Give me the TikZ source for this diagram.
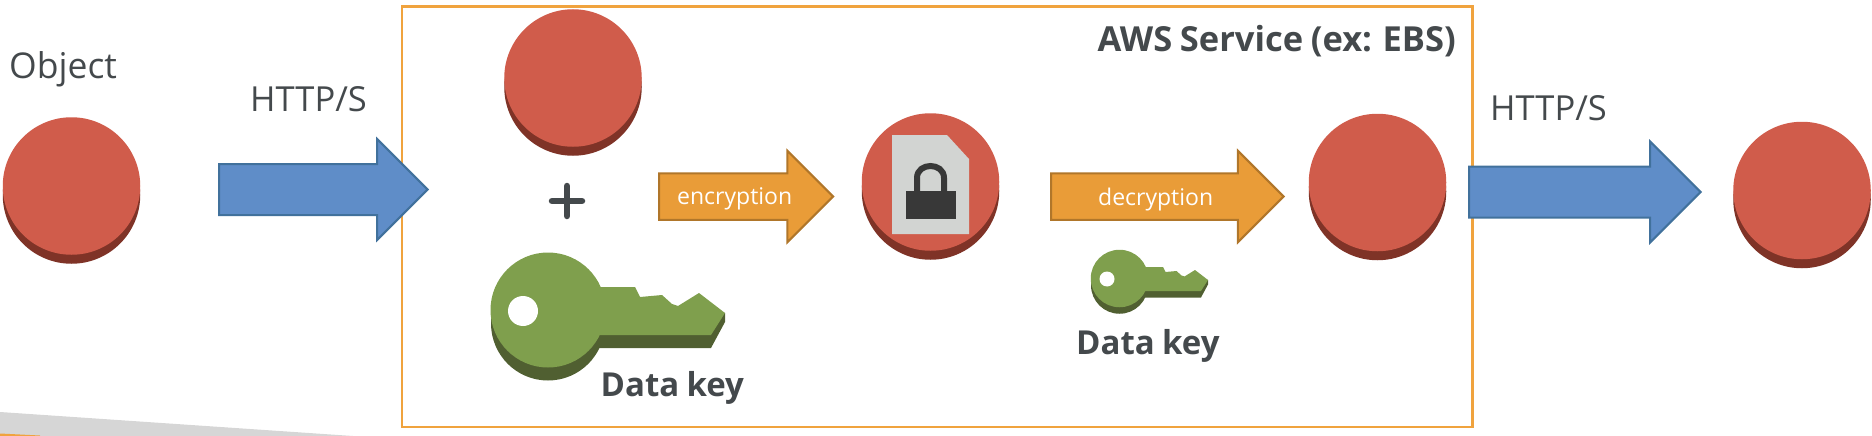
\documentclass[tikz,border=0pt]{standalone}
\usepackage{fontspec}
\setmainfont[WordSpace=0.85]{Open Sans}
\usetikzlibrary{shapes.arrows}
\definecolor{diskface}{HTML}{D05C4B}
\definecolor{diskedge}{HTML}{7F3327}
\definecolor{keyface}{HTML}{7F9F4D}
\definecolor{keyedge}{HTML}{505F31}
\definecolor{bluefill}{HTML}{5F8DC8}
\definecolor{blueline}{HTML}{41719C}
\definecolor{orangefill}{HTML}{E99C38}
\definecolor{orangeline}{HTML}{B0762A}
\definecolor{frameline}{HTML}{F0A33E}
\definecolor{inktext}{HTML}{44494C}
\definecolor{paper}{HTML}{D2D4D2}
\definecolor{lockdark}{HTML}{383838}
\definecolor{sliver}{HTML}{D6D6D6}
\tikzset{
  x=1pt, y=-1pt,
  diskbase/.style={circle, inner sep=0pt, outer sep=0pt, minimum size=137.5pt},
  blockarrow/.style={shape=single arrow, single arrow head extend=#1, inner xsep=0pt, inner ysep=0pt,
    outer sep=0pt, minimum width=0pt, anchor=tip, line width=2pt, text width=0pt, text depth=0pt},
  bluearrow/.style={blockarrow=25pt, fill=bluefill, draw=blueline, text height=49pt},
  orangearrow/.style={blockarrow=22.5pt, fill=orangefill, draw=orangeline, text height=44.5pt},
  plain/.style={inktext, inner sep=0pt, anchor=base west, font=\fontsize{34.5}{42}\selectfont},
  heavy/.style={inktext, inner sep=0pt, anchor=base west, font=\fontsize{33}{40}\selectfont\bfseries},
  onarrow/.style={white, inner sep=0pt, anchor=base west, font=\fontsize{23}{28}\selectfont},
}
% A raised disk: darker copy below, lighter face on top.
\newcommand{\raiseddisk}[3]{%
  \node[diskbase, fill=diskedge] (#1edge) at (#2,#3+9) {};
  \node[diskbase, fill=diskface] (#1) at (#2,#3) {};
}
% The key glyph, drawn in full-size coordinates with its edge layer first.
\newcommand{\keyglyph}[3]{%
  \begin{scope}[shift={(#1,#2)}, scale=#3, shift={(-491,-253)}]
    \fill[keyedge] (548,323.5) circle[radius=57];
    \fill[keyedge] (580,300) -- (725,313) -- (725,322) -- (711,348) -- (580,348) -- cycle;
    \fill[keyface] (548,310) circle[radius=57.5];
    \fill[keyface] (580,287) -- (635,287) -- (640,297) -- (662,295) -- (672,304) -- (678,306)
      -- (699,293) -- (725,313) -- (711,335) -- (580,335) -- cycle;
    \fill[white] (523,311) circle[radius=15];
  \end{scope}%
}
\begin{document}
\begin{tikzpicture}
\useasboundingbox (0,0) rectangle (1872,436);
\clip (0,0) rectangle (1872,436);

% Slide remnants along the lower edge
\fill[sliver] (0,412) -- (353,436) -- (0,436) -- cycle;
\fill[frameline] (0,433.5) -- (40,435.5) -- (40,436) -- (0,436) -- cycle;

% Service frame
\node[draw=frameline, line width=2.6pt, inner sep=0pt, outer sep=0pt, anchor=north west,
      minimum width=1070.5pt, minimum height=420.5pt] (service) at (402,6.5) {};
\node[heavy, font=\fontsize{34.5}{42}\selectfont\bfseries, anchor=base east] (servicetitle) at (1456,52) {AWS Service (ex: EBS)};

% Incoming object
\node[plain, font=\fontsize{35.5}{42}\selectfont] (objectlabel) at (9,78) {Object};
\raiseddisk{source}{71.5}{186}
\node[plain] (httpin) at (250,111) {HTTP/S};
\node[bluearrow, minimum height=208.6pt] (uploadarrow) at (427.6,189.5) {};

% Plain object and data key inside the service
\raiseddisk{plainobject}{573}{78}
\coordinate (plus) at (567,201);
\draw[inktext, line width=6.5pt, line cap=round] ([xshift=-15pt]plus) -- ([xshift=15pt]plus);
\draw[inktext, line width=6.5pt, line cap=round] ([yshift=-15pt]plus) -- ([yshift=15pt]plus);
\keyglyph{491}{253}{1}
\node[heavy] (keylabelone) at (600.5,396) {Data key};

% Encryption step
\node[orangearrow, minimum height=174.1pt] (encryptarrow) at (833.1,196.5) {};
\node[onarrow] (encryptlabel) at (677,204) {encryption};

% Encrypted object: paper sheet with padlock
\raiseddisk{cipher}{930.5}{182}
\fill[paper] (892,135) -- (947,135) -- (969,159) -- (969,234) -- (892,234) -- cycle;
\draw[lockdark, line width=6pt] (917,195) -- (917,178) .. controls (917,162) and (944,162) .. (944,178) -- (944,195);
\fill[lockdark] (906,191) rectangle (956,219);

% Decryption step
\node[orangearrow, minimum height=232.6pt] (decryptarrow) at (1283.6,196.5) {};
\node[onarrow] (decryptlabel) at (1098,205) {decryption};
\keyglyph{1091}{250}{0.5}
\node[heavy] (keylabeltwo) at (1076,354) {Data key};

% Decrypted object leaving the service
\raiseddisk{output}{1377.5}{182.5}
\node[plain] (httpout) at (1490,121) {HTTP/S};
\node[bluearrow, minimum height=231.6pt] (downloadarrow) at (1700.6,192) {};
\raiseddisk{target}{1802}{190.5}
\end{tikzpicture}
\end{document}
